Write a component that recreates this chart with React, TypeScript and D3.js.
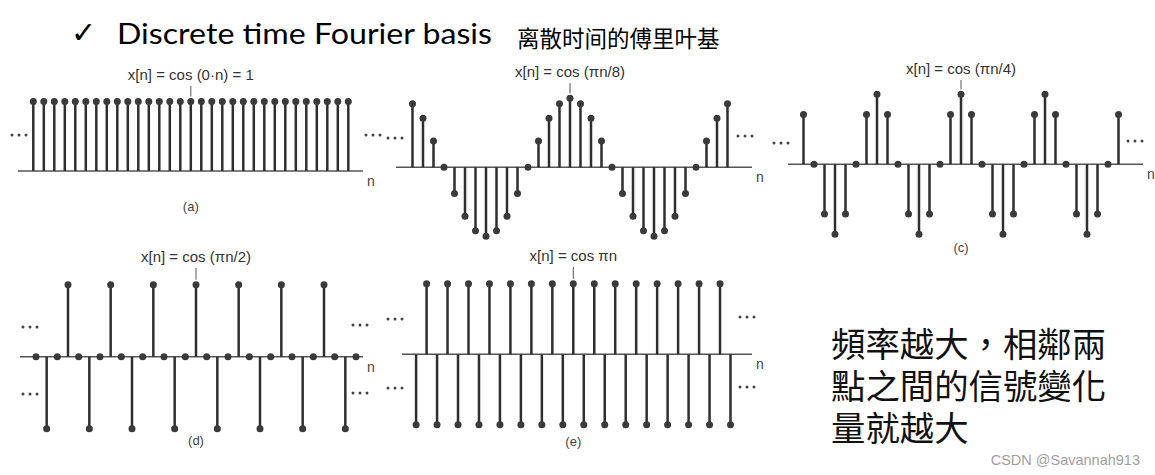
import React, { useEffect, useRef } from 'react'
import * as d3 from "d3";

// sample index n, shared by all five plots
const nIdx = [-15, -14, -13, -12, -11, -10, -9, -8, -7, -6, -5, -4, -3, -2, -1, 0, 1, 2, 3, 4, 5, 6, 7, 8, 9, 10, 11, 12, 13, 14, 15]

// x[n] = cos(0·n) = 1
const seriesA = [1, 1, 1, 1, 1, 1, 1, 1, 1, 1, 1, 1, 1, 1, 1, 1, 1, 1, 1, 1, 1, 1, 1, 1, 1, 1, 1, 1, 1, 1, 1]
// x[n] = cos(πn/8)
const seriesB = [0.92, 0.71, 0.38, 0, -0.38, -0.71, -0.92, -1, -0.92, -0.71, -0.38, 0, 0.38, 0.71, 0.92, 1, 0.92, 0.71, 0.38, 0, -0.38, -0.71, -0.92, -1, -0.92, -0.71, -0.38, 0, 0.38, 0.71, 0.92]
// x[n] = cos(πn/4)
const seriesC = [0.71, 0, -0.71, -1, -0.71, 0, 0.71, 1, 0.71, 0, -0.71, -1, -0.71, 0, 0.71, 1, 0.71, 0, -0.71, -1, -0.71, 0, 0.71, 1, 0.71, 0, -0.71, -1, -0.71, 0, 0.71]
// x[n] = cos(πn/2)
const seriesD = [0, -1, 0, 1, 0, -1, 0, 1, 0, -1, 0, 1, 0, -1, 0, 1, 0, -1, 0, 1, 0, -1, 0, 1, 0, -1, 0, 1, 0, -1, 0]
// x[n] = cos πn
const seriesE = [-1, 1, -1, 1, -1, 1, -1, 1, -1, 1, -1, 1, -1, 1, -1, 1, -1, 1, -1, 1, -1, 1, -1, 1, -1, 1, -1, 1, -1, 1, -1]

const formulas = ["x[n] = cos (0·n) = 1", "x[n] = cos (πn/8)", "x[n] = cos (πn/4)", "x[n] = cos (πn/2)", "x[n] = cos πn"]
const captions = ["(a)", "", "(c)", "(d)", "(e)"]
const noteLines = ["頻率越大，相鄰兩", "點之間的信號變化", "量就越大"]

type Panel = {
  values: number[]
  formula: string
  caption: string
  x0: number; x1: number     // pixel of n=-15 and n=15
  base: number; amp: number  // baseline y and pixel height of 1
  axL: number; axR: number   // baseline extent
  labelY: number
  capY: number
  dotsL: [number, number][]  // [x, y] start of "..." groups
  dotsR: [number, number][]
}

export default function App() {
  const svgRef = useRef<SVGSVGElement | null>(null)
  const W = 1155
  const H = 475

  useEffect(() => {
    const svg = d3.select(svgRef.current)
    svg.selectAll("*").remove()

    const panels: Panel[] = [
      { values: seriesA, formula: formulas[0], caption: captions[0], x0: 33.3, x1: 348.3, base: 171, amp: 69.5, axL: 18, axR: 363, labelY: 80, capY: 211, dotsL: [[10, 135]], dotsR: [[364, 135]] },
      { values: seriesB, formula: formulas[1], caption: captions[1], x0: 412.5, x1: 727.5, base: 167.3, amp: 69, axL: 396, axR: 752, labelY: 77, capY: 0, dotsL: [[386, 138]], dotsR: [[736, 136]] },
      { values: seriesC, formula: formulas[2], caption: captions[2], x0: 803.5, x1: 1118.5, base: 164.3, amp: 70, axL: 788, axR: 1143, labelY: 74, capY: 252, dotsL: [[772, 143]], dotsR: [[1126, 141]] },
      { values: seriesD, formula: formulas[3], caption: captions[3], x0: 36, x1: 356, base: 356.7, amp: 72, axL: 20, axR: 363, labelY: 262, capY: 445, dotsL: [[21, 327], [21, 394]], dotsR: [[351, 325], [351, 393]] },
      { values: seriesE, formula: formulas[4], caption: captions[4], x0: 416.1, x1: 730.5, base: 354.3, amp: 70.5, axL: 402, axR: 752, labelY: 261, capY: 446, dotsL: [[386, 319], [386, 388]], dotsR: [[738, 317], [738, 387]] },
    ]

    const ink = "#2e2e2e"

    panels.forEach((p) => {
      const x = d3.scaleLinear().domain([d3.min(nIdx)!, d3.max(nIdx)!]).range([p.x0, p.x1])
      const y = d3.scaleLinear().domain([-1, 1]).range([p.base + p.amp, p.base - p.amp])
      const g = svg.append("g")

      // eje horizontal
      g.append("line")
        .attr("x1", p.axL).attr("x2", p.axR)
        .attr("y1", y(0)).attr("y2", y(0))
        .attr("stroke", "#555").attr("stroke-width", 1.4)

      g.append("text")
        .attr("x", p.axR + 4).attr("y", y(0) + 15)
        .attr("font-family", "Liberation Sans, Arial, sans-serif")
        .attr("font-size", 14).attr("fill", "#444")
        .text("n")

      const pts = nIdx.map((n, i) => ({ n, v: p.values[i] }))

      // tallos
      g.selectAll("line.stem")
        .data(pts.filter((d) => d.v !== 0))
        .join("line")
        .attr("class", "stem")
        .attr("x1", (d) => x(d.n)).attr("x2", (d) => x(d.n))
        .attr("y1", y(0)).attr("y2", (d) => y(d.v))
        .attr("stroke", ink).attr("stroke-width", 2.5)

      // marcadores
      g.selectAll("circle.mk")
        .data(pts)
        .join("circle")
        .attr("class", "mk")
        .attr("cx", (d) => x(d.n)).attr("cy", (d) => y(d.v))
        .attr("r", 3.5)
        .attr("fill", "#3a3a3a")

      // formula + pointer
      const xc = x(0)
      g.append("text")
        .attr("x", xc).attr("y", p.labelY)
        .attr("text-anchor", "middle")
        .attr("font-family", "Liberation Sans, Arial, sans-serif")
        .attr("font-size", 15).attr("fill", "#333")
        .text(p.formula)
      g.append("line")
        .attr("x1", xc).attr("x2", xc)
        .attr("y1", p.labelY + 6).attr("y2", y(1) - 5)
        .attr("stroke", "#555").attr("stroke-width", 1)

      if (p.caption) {
        g.append("text")
          .attr("x", xc).attr("y", p.capY)
          .attr("text-anchor", "middle")
          .attr("font-family", "Liberation Sans, Arial, sans-serif")
          .attr("font-size", 13).attr("fill", "#444")
          .text(p.caption)
      }

      // puntos suspensivos
      const dots = [...p.dotsL, ...p.dotsR]
      dots.forEach(([dx, dy]) => {
        g.selectAll(null)
          .data([0, 1, 2])
          .join("circle")
          .attr("cx", (k) => dx + 2 + k * 7)
          .attr("cy", dy)
          .attr("r", 1.5)
          .attr("fill", "#444")
      })
    })

    // titulo
    svg.append("text")
      .attr("x", 71).attr("y", 43)
      .attr("font-family", "DejaVu Sans, sans-serif")
      .attr("font-size", 30).attr("font-weight", "bold").attr("fill", "#000")
      .text("✓")
    svg.append("text")
      .attr("x", 117).attr("y", 44)
      .attr("font-family", "Lato, Open Sans, sans-serif")
      .attr("font-size", 29).attr("fill", "#000")
      .attr("textLength", 375).attr("lengthAdjust", "spacingAndGlyphs")
      .text("Discrete time Fourier basis")
    svg.append("text")
      .attr("x", 517).attr("y", 47)
      .attr("font-family", "Noto Sans CJK SC, sans-serif")
      .attr("font-size", 22.5).attr("fill", "#000")
      .text("离散时间的傅里叶基")

    // nota lateral: un solo bloque de texto con tres renglones
    svg.append("text")
      .attr("font-family", "Noto Sans CJK TC, sans-serif")
      .attr("font-size", 34.4).attr("fill", "#111")
      .selectAll("tspan")
      .data(noteLines)
      .join("tspan")
      .attr("x", 831)
      .attr("y", (_, i) => 357 + i * 42)
      .text((d) => d)

    svg.append("text")
      .attr("x", 1140).attr("y", 465)
      .attr("text-anchor", "end")
      .attr("font-family", "Liberation Sans, Arial, sans-serif")
      .attr("font-size", 14.5).attr("fill", "#a0a0a0")
      .text("CSDN @Savannah913")
  }, [])

  return (
    <svg ref={svgRef}
      width={W}
      height={H}
      style={{ position: "absolute", left: 0, top: 0, background: "#fff" }}
    />
  )
}
